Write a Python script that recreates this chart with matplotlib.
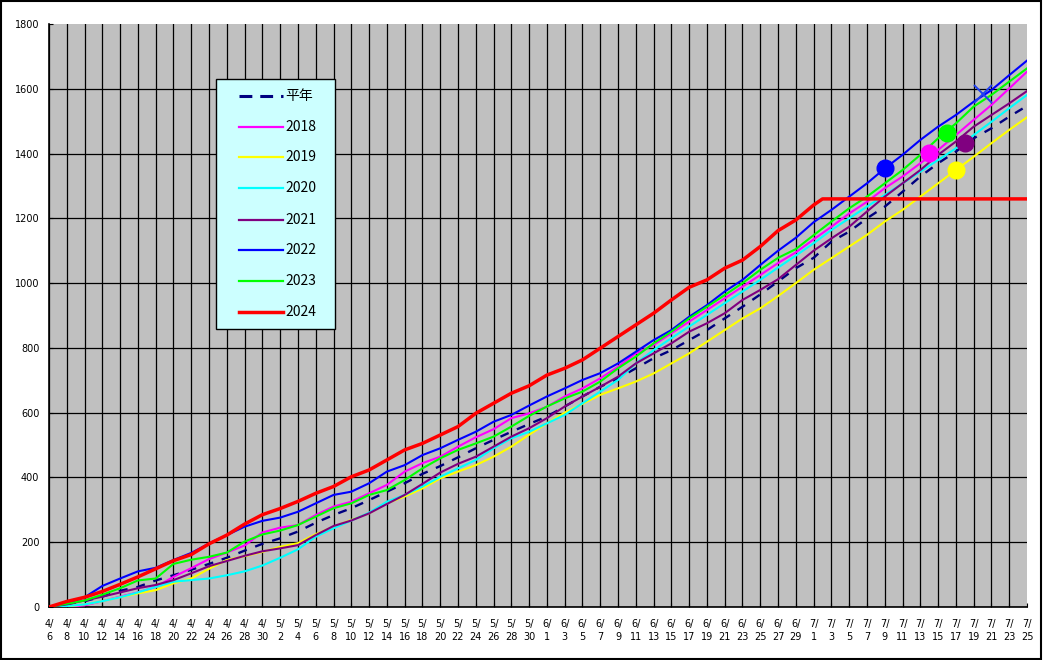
import datetime
import numpy as np
import matplotlib
matplotlib.use("Agg")
import matplotlib.pyplot as plt
from matplotlib.lines import Line2D
from matplotlib.patches import Rectangle

plt.rcParams['font.family'] = ['DejaVu Sans', 'Noto Sans CJK JP']

# day offsets from 4/6, sampled every 2 days
start = datetime.date(2024, 4, 6)
day = np.arange(0, 111, 2)
tick_labels = [f"{(start + datetime.timedelta(days=int(d))).month}/\n"
               f"{(start + datetime.timedelta(days=int(d))).day}" for d in day]

# cumulative values
heinen = [0, 8, 18, 32, 50, 62, 82, 98, 115, 133,
          152, 174, 195, 212, 233, 260, 284, 305, 330, 356,
          382, 411, 435, 462, 490, 516, 541, 565, 588, 619,
          650, 680, 706, 737, 768, 793, 824, 855, 891, 927,
          965, 1005, 1046, 1078, 1128, 1159, 1200, 1236, 1282, 1329,
          1370, 1406, 1447, 1478, 1514, 1547]
y2018 = [0, 0, 5, 18, 32, 45, 62, 93, 120, 148,
         168, 190, 230, 245, 253, 284, 310, 325, 351, 377,
         418, 444, 464, 495, 524, 549, 583, 598, 618, 650,
         675, 706, 742, 783, 809, 845, 881, 917, 953, 989,
         1025, 1062, 1095, 1135, 1174, 1215, 1251, 1293, 1329, 1370,
         1411, 1457, 1504, 1550, 1601, 1653]
y2019 = [0, 2, 8, 18, 30, 42, 52, 73, 88, 118,
         145, 157, 170, 186, 197, 225, 248, 269, 289, 320,
         341, 366, 397, 418, 438, 464, 495, 532, 567, 600,
         627, 655, 675, 696, 721, 752, 783, 819, 855, 891,
         922, 960, 1000, 1041, 1077, 1113, 1149, 1190, 1226, 1267,
         1308, 1349, 1390, 1432, 1473, 1512]
y2020 = [0, 3, 8, 18, 30, 45, 62, 78, 83, 88,
         98, 110, 128, 152, 178, 217, 243, 267, 291, 325,
         346, 372, 402, 428, 454, 490, 521, 541, 567, 593,
         629, 665, 701, 752, 793, 830, 866, 902, 938, 974,
         1010, 1048, 1085, 1123, 1164, 1200, 1236, 1272, 1308, 1344,
         1380, 1416, 1457, 1498, 1540, 1581]
y2021 = [0, 8, 20, 32, 45, 58, 68, 83, 104, 126,
         142, 158, 172, 181, 191, 222, 250, 267, 289, 318,
         346, 380, 415, 442, 464, 495, 526, 552, 583, 619,
         650, 680, 711, 752, 783, 814, 850, 876, 907, 948,
         979, 1012, 1056, 1100, 1138, 1174, 1221, 1267, 1308, 1349,
         1396, 1437, 1483, 1519, 1555, 1593]
y2022 = [0, 10, 30, 65, 88, 110, 121, 145, 167, 196,
         222, 248, 266, 276, 294, 320, 346, 356, 382, 418,
         438, 469, 490, 516, 541, 572, 593, 622, 650, 675,
         701, 722, 752, 788, 824, 855, 896, 932, 974, 1010,
         1056, 1100, 1140, 1188, 1226, 1267, 1308, 1354, 1396, 1442,
         1483, 1519, 1560, 1596, 1642, 1687]
y2023 = [0, 10, 20, 38, 58, 82, 88, 133, 146, 155,
         168, 202, 224, 236, 253, 279, 305, 320, 346, 361,
         392, 428, 459, 485, 505, 526, 557, 590, 619, 644,
         665, 696, 737, 773, 814, 850, 891, 927, 963, 1000,
         1041, 1078, 1105, 1148, 1190, 1231, 1267, 1308, 1349, 1396,
         1447, 1493, 1545, 1581, 1622, 1663]
# 2024 runs to 7/2, then stays flat
day2024 = list(range(0, 87, 2)) + [87, 110]
y2024 = [0, 17, 30, 48, 70, 93, 118, 143, 162, 195,
         222, 256, 285, 304, 326, 351, 372, 402, 423, 454,
         485, 505, 531, 557, 598, 629, 660, 683, 716, 737,
         763, 799, 835, 871, 907, 948, 987, 1010, 1046, 1071,
         1113, 1162, 1195, 1241, 1260, 1260]

# reached points (day offset, value)
mark_days = [94, 99, 101, 103, 102]
mark_vals = [1356, 1403, 1462, 1434, 1349]
mark_cols = ["#0000FF", "#FF00FF", "#00FF00", "#800080", "#FFFF00"]
cross_day, cross_val = 105, 1584

labels = ["平年", "2018", "2019", "2020", "2021", "2022", "2023", "2024"]
colors = ["#000080", "#FF00FF", "#FFFF00", "#00FFFF", "#800080",
          "#0000FF", "#00FF00", "#FF0000"]

W, H = 1043, 660
fig = plt.figure(figsize=(W / 100, H / 100), dpi=100)
fig.patch.set_facecolor("white")
ax = fig.add_axes([49 / W, 53 / H, 978 / W, 583 / H])
ax.set_facecolor("#C0C0C0")

series = [heinen, y2018, y2019, y2020, y2021, y2022, y2023]
for k, vals in enumerate(series):
    if k == 0:
        ax.plot(day, vals, color=colors[k], lw=1.7, dashes=(3.8, 3.8), zorder=3)
    else:
        ax.plot(day, vals, color=colors[k], lw=1.5, zorder=3)
ax.plot(day2024, y2024, color=colors[7], lw=2.5, zorder=4)

for d, v, c in zip(mark_days, mark_vals, mark_cols):
    ax.plot(d, v, "o", color=c, ms=12, mec=c, zorder=5)
ax.plot(cross_day, cross_val, "x", color="#2040F0", ms=13, mew=1.4, zorder=5)

ax.set_xlim(0, 110)
ax.set_ylim(0, 1800)
ax.set_xticks(day)
ax.set_xticklabels(tick_labels, fontsize=7, linespacing=1.35)
ax.set_yticks(np.arange(0, 1801, 200))
ax.tick_params(axis="both", direction="in", length=3, color="black")
ax.tick_params(axis="x", pad=9)
ax.tick_params(axis="y", pad=7, labelsize=7)
ax.grid(True, color="black", lw=0.9)
ax.set_axisbelow(True)
fig.canvas.draw()
ax.yaxis.get_gridlines()[-1].set_visible(False)
ax.xaxis.get_gridlines()[-1].set_visible(False)
for s in ["top", "right"]:
    ax.spines[s].set_visible(False)
for s in ["left", "bottom"]:
    ax.spines[s].set_color("black")
    ax.spines[s].set_linewidth(1.2)


def fx(x):
    return x / W


def fy(y):
    return 1 - y / H


# legend box drawn by hand to match the original position
fig.add_artist(Rectangle((fx(216), fy(329)), fx(119), 250 / H,
                         transform=fig.transFigure, facecolor="#CCFFFF",
                         edgecolor="black", lw=1, zorder=10))
ys = [95.7, 126.7, 157.3, 188.3, 219.7, 249.7, 281, 311.7]
for k, (lab, c, yy) in enumerate(zip(labels, colors, ys)):
    if k == 0:
        ln = Line2D([fx(239), fx(283)], [fy(yy), fy(yy)], color=c, lw=2.2,
                    dashes=(4.2, 2.6), transform=fig.transFigure, zorder=11)
    else:
        ln = Line2D([fx(239), fx(283)], [fy(yy), fy(yy)], color=c,
                    lw=2.5 if k == 7 else 1.6, transform=fig.transFigure, zorder=11)
    fig.add_artist(ln)
    fig.text(fx(285), fy(yy), lab, fontsize=10, va="center", ha="left",
             family=['Noto Sans CJK JP', 'DejaVu Sans'], zorder=12)

# outer frame
fig.add_artist(Rectangle((fx(1), fy(659)), fx(1040), 658 / H,
                         transform=fig.transFigure, fill=False,
                         edgecolor="black", lw=1.5, zorder=20))

fig.savefig("out.png", dpi=100)
